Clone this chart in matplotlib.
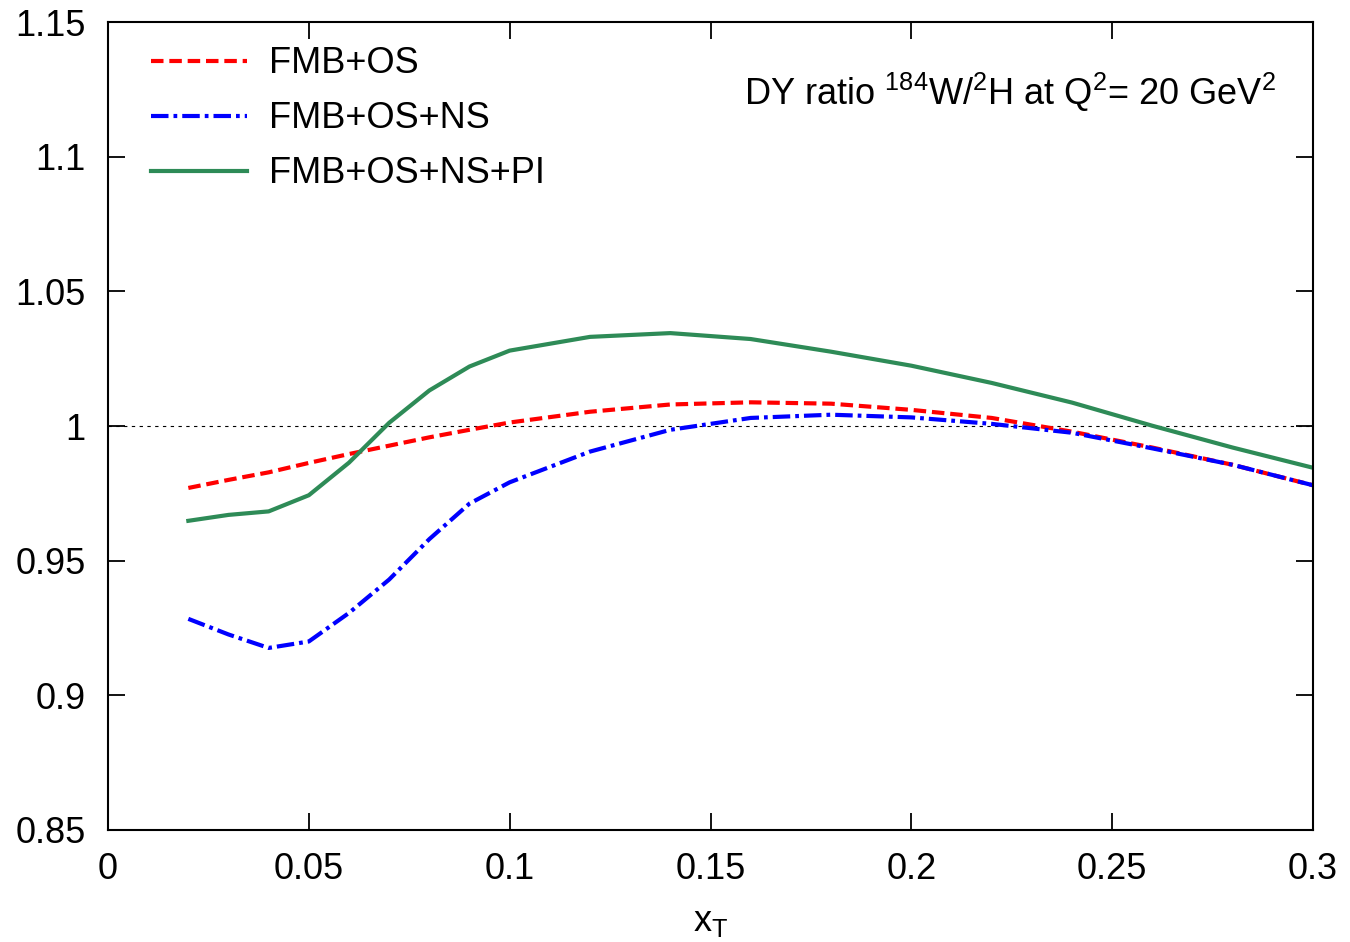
import matplotlib
matplotlib.use("Agg")
import matplotlib.pyplot as plt

plt.rcParams["font.family"] = ["Liberation Sans Narrow", "Liberation Sans", "DejaVu Sans"]
plt.rcParams["mathtext.fontset"] = "custom"
plt.rcParams["mathtext.rm"] = "Liberation Sans"
plt.rcParams["mathtext.it"] = "Liberation Sans"

# x_T grid of the calculation
xt = [0.02, 0.03, 0.04, 0.05, 0.06, 0.07, 0.08, 0.09, 0.10, 0.12, 0.14,
      0.16, 0.18, 0.20, 0.22, 0.24, 0.26, 0.28, 0.30]

fmb_os = [0.977, 0.980, 0.9828, 0.9863, 0.9896, 0.9927, 0.9958, 0.9986, 1.0013,
          1.0053, 1.0080, 1.0088, 1.0083, 1.0060, 1.0030, 0.9979, 0.9920, 0.9856, 0.978]
fmb_os_ns = [0.9284, 0.9226, 0.9176, 0.9200, 0.9306, 0.9430, 0.9580, 0.9712, 0.9791,
             0.9905, 0.9986, 1.0030, 1.0042, 1.0032, 1.0008, 0.9975, 0.9917, 0.9856, 0.978]
fmb_os_ns_pi = [0.9648, 0.9670, 0.9683, 0.9743, 0.9864, 1.0012, 1.0132, 1.0221, 1.0280,
                1.0331, 1.0345, 1.0323, 1.0276, 1.0224, 1.0160, 1.0087, 1.0001, 0.9920, 0.9845]

labels = ["FMB+OS", "FMB+OS+NS", "FMB+OS+NS+PI"]

fig = plt.figure(figsize=(13.5, 9.42), dpi=100)
ax = fig.add_axes([0.08, 0.1189, 0.8926, 0.8577])

ax.axhline(1.0, color="black", lw=0.8, ls=(0, (3, 4)), zorder=1)
ax.plot(xt, fmb_os, color="#ff0000", lw=3.0, ls=(0, (3.0, 1.4)), label=labels[0])
ax.plot(xt, fmb_os_ns, color="#0000ff", lw=3.0, ls=(0, (4.2, 1.2, 0.9, 1.2)), label=labels[1])
ax.plot(xt, fmb_os_ns_pi, color="#2e8b57", lw=3.0, label=labels[2])

ax.set_xlim(0, 0.3)
ax.set_ylim(0.85, 1.15)
ax.set_xticks([0, 0.05, 0.1, 0.15, 0.2, 0.25, 0.3])
ax.set_xticklabels(["0", "0.05", "0.1", "0.15", "0.2", "0.25", "0.3"])
ax.set_yticks([0.85, 0.9, 0.95, 1.0, 1.05, 1.1, 1.15])
ax.set_yticklabels(["0.85", "0.9", "0.95", "1", "1.05", "1.1", "1.15"])
ax.tick_params(direction="in", length=12, width=1.3, labelsize=26,
               top=True, right=True)
ax.tick_params(axis="x", pad=16)
ax.tick_params(axis="y", pad=16)
for s in ax.spines.values():
    s.set_linewidth(1.5)

ax.set_xlabel(r"x$_\mathregular{T}$", fontsize=26, labelpad=12)

ax.text(0.9695, 0.913,
        r"DY ratio $\mathregular{^{184}}$W/$\mathregular{^{2}}$H at Q$\mathregular{^{2}}$= 20 GeV$\mathregular{^{2}}$",
        transform=ax.transAxes, ha="right", va="center", fontsize=26)

ax.legend(loc="upper left", bbox_to_anchor=(0.009, 1.01), frameon=False,
          fontsize=26, handlelength=2.65, handletextpad=0.62, labelspacing=0.55)

fig.savefig("out.png", dpi=100)
